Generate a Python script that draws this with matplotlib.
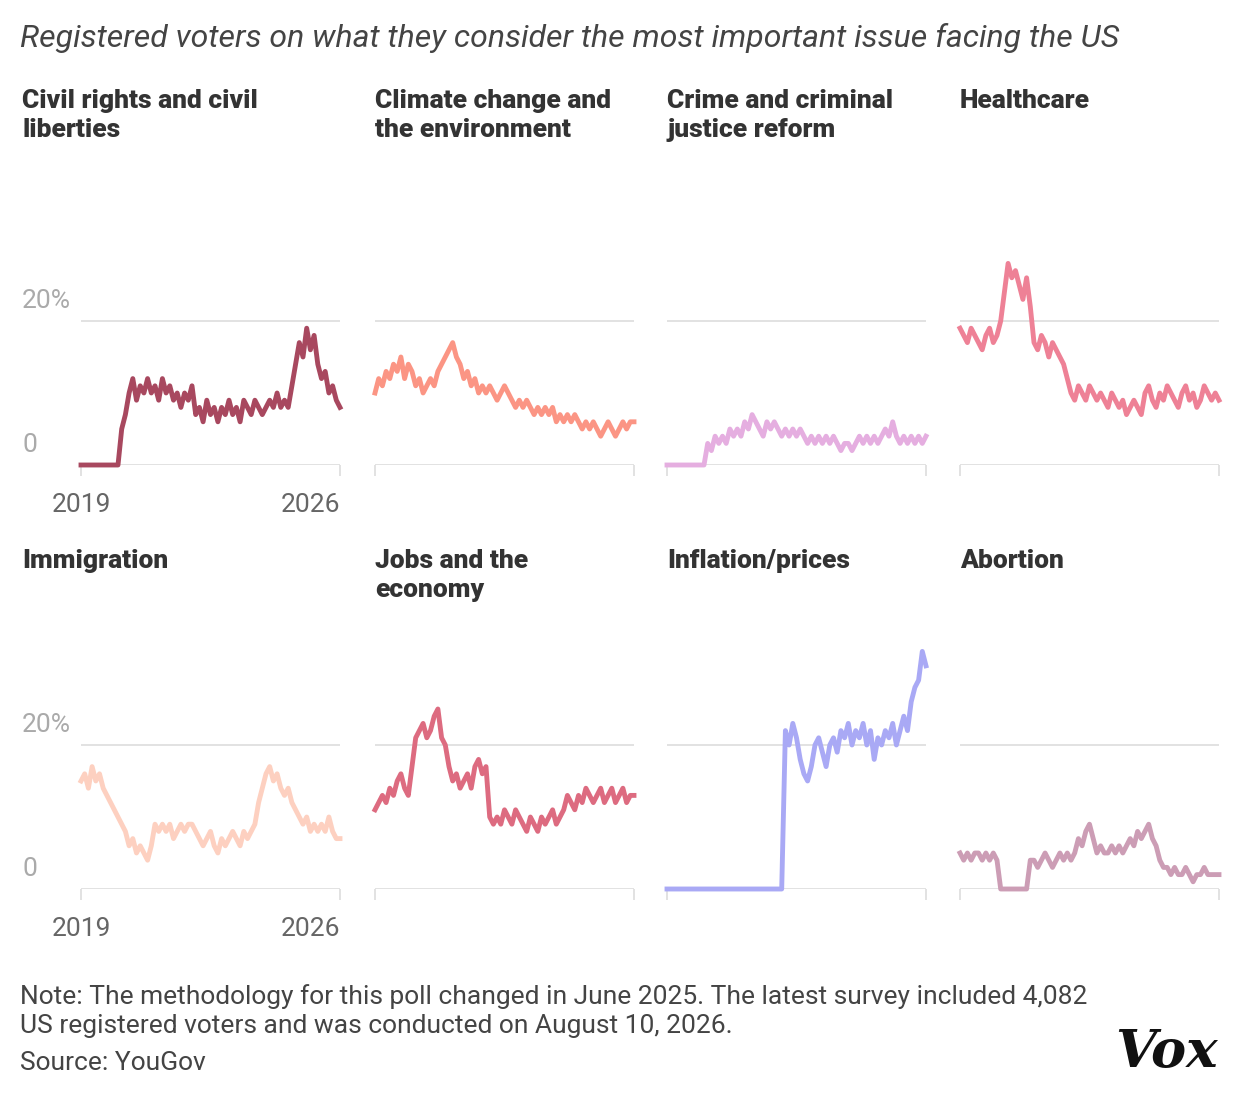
import numpy as np
import matplotlib
matplotlib.use("Agg")
import matplotlib.pyplot as plt

plt.rcParams['font.family'] = ['Roboto', 'DejaVu Sans']

# years 2019.0 .. 2026.0, step 0.1
years = np.round(np.arange(71) * 0.1 + 2019.0, 1)

titles = ["Civil rights and civil\nliberties", "Climate change and\nthe environment",
          "Crime and criminal\njustice reform", "Healthcare",
          "Immigration", "Jobs and the\neconomy", "Inflation/prices", "Abortion"]
colors = ["#a8485f", "#fb9584", "#e5aee0", "#ee8196",
          "#fdd0c0", "#dd6b80", "#a9a9f5", "#cc9db5"]

civil = [0, 0, 0, 0, 0, 0, 0, 0, 0, 0, 0, 5, 7, 10, 12, 9, 11, 10, 12, 10,
         11, 9, 12, 10, 11, 9, 10, 8, 10, 9, 11, 7, 8, 6, 9, 7, 8, 6, 8, 7,
         9, 7, 8, 6, 9, 8, 7, 9, 8, 7, 8, 9, 8, 10, 8, 9, 8, 11, 14, 17,
         15, 19, 16, 18, 14, 12, 13, 10, 11, 9, 8]
climate = [10, 12, 11, 13, 12, 14, 13, 15, 12, 14, 13, 11, 12, 10, 11, 12, 11, 13, 14, 15,
           16, 17, 15, 14, 12, 13, 11, 12, 10, 11, 10, 11, 10, 9, 10, 11, 10, 9, 8, 9,
           8, 9, 8, 7, 8, 7, 8, 7, 8, 6, 7, 6, 7, 6, 7, 6, 5, 6, 5, 6,
           5, 4, 5, 6, 5, 4, 5, 6, 5, 6, 6]
crime = [0, 0, 0, 0, 0, 0, 0, 0, 0, 0, 0, 3, 2, 4, 3, 4, 3, 5, 4, 5,
         4, 6, 5, 7, 6, 5, 4, 6, 5, 6, 5, 4, 5, 4, 5, 4, 5, 4, 3, 4,
         3, 4, 3, 4, 3, 4, 3, 2, 3, 3, 2, 3, 4, 3, 4, 3, 4, 3, 4, 5,
         4, 6, 4, 3, 4, 3, 4, 3, 4, 3, 4]
health = [19, 18, 17, 19, 18, 17, 16, 18, 19, 17, 18, 20, 24, 28, 26, 27, 25, 23, 26, 22,
          17, 16, 18, 17, 15, 17, 16, 15, 14, 12, 10, 9, 11, 10, 9, 11, 10, 9, 10, 9,
          8, 10, 9, 8, 9, 7, 8, 9, 8, 7, 10, 11, 9, 8, 10, 9, 11, 10, 9, 8,
          10, 11, 9, 10, 8, 9, 11, 10, 9, 10, 9]
immig = [15, 16, 14, 17, 15, 16, 14, 13, 12, 11, 10, 9, 8, 6, 7, 5, 6, 5, 4, 6,
         9, 8, 9, 8, 9, 7, 8, 9, 8, 9, 9, 8, 7, 6, 7, 8, 6, 5, 7, 6,
         7, 8, 7, 6, 8, 7, 8, 9, 12, 14, 16, 17, 15, 16, 14, 13, 14, 12, 11, 10,
         9, 10, 8, 9, 8, 9, 8, 10, 8, 7, 7]
jobs = [11, 12, 13, 12, 14, 13, 15, 16, 14, 13, 17, 21, 22, 23, 21, 22, 24, 25, 21, 20,
        17, 15, 16, 14, 15, 16, 14, 17, 18, 16, 17, 10, 9, 10, 9, 11, 10, 9, 11, 10,
        9, 8, 10, 9, 8, 10, 9, 10, 11, 9, 10, 11, 13, 12, 11, 13, 12, 14, 13, 12,
        13, 14, 12, 13, 14, 12, 13, 14, 12, 13, 13]
inflation = [0, 0, 0, 0, 0, 0, 0, 0, 0, 0, 0, 0, 0, 0, 0, 0, 0, 0, 0, 0,
             0, 0, 0, 0, 0, 0, 0, 0, 0, 0, 0, 0, 22, 20, 23, 21, 18, 16, 15, 17,
             20, 21, 19, 17, 20, 21, 19, 22, 21, 23, 20, 22, 21, 23, 20, 22, 18, 21, 20, 22,
             21, 23, 20, 22, 24, 22, 26, 28, 29, 33, 31]
abortion = [5, 4, 5, 4, 5, 5, 4, 5, 4, 5, 4, 0, 0, 0, 0, 0, 0, 0, 0, 4,
            4, 3, 4, 5, 4, 3, 4, 5, 4, 5, 4, 5, 7, 6, 8, 9, 7, 5, 6, 5,
            5, 6, 5, 6, 5, 6, 7, 6, 8, 7, 8, 9, 7, 6, 4, 3, 3, 2, 3, 2,
            2, 3, 2, 1, 2, 2, 3, 2, 2, 2, 2]
series = [civil, climate, crime, health, immig, jobs, inflation, abortion]

W, H = 1240, 1098
fig = plt.figure(figsize=(12.4, 10.98), dpi=100)

col_x = [81, 375, 667, 960]
row_base = [465, 889]
pw = 259
ymax = 35
ph = ymax * 7.2

for k in range(8):
    r, c = divmod(k, 4)
    x0, yb = col_x[c], row_base[r]
    ax = fig.add_axes([x0 / W, 1 - yb / H, pw / W, ph / H])
    ax.plot(years, series[k], color=colors[k], lw=3.5, solid_joinstyle='round', clip_on=False, zorder=3)
    ax.set_xlim(2019, 2026)
    ax.set_ylim(0, ymax)
    for s in ax.spines.values():
        s.set_visible(False)
    ax.axhline(20, color="#dddddd", lw=1.2, zorder=1)
    ax.axhline(0, color="#dddddd", lw=1.2, zorder=1)
    ax.set_yticks([])
    ax.set_xticks([2019, 2026])
    ax.tick_params(axis='x', length=8, color="#dddddd", width=1.2, labelsize=19,
                   labelcolor="#666666", pad=12)
    if c != 0:
        ax.set_xticklabels([])
    else:
        labs = ax.get_xticklabels()
        labs[1].set_horizontalalignment('right')
        fig.text(22 / W, 1 - (yb - 144 - 8) / H, "20%", fontsize=19, color="#aaaaaa", va='bottom')
        fig.text(22 / W, 1 - (yb - 8) / H, "0", fontsize=19, color="#aaaaaa", va='bottom')
    ty = 89 if r == 0 else 549
    fig.text((22 if c == 0 else x0) / W, 1 - ty / H, titles[k], fontsize=19, fontweight='black',
             color="#333333", va='top', linespacing=1.25)

fig.text(20 / W, 1 - 38 / H, "Registered voters on what they consider the most important issue facing the US",
         fontsize=23, style='italic', color="#444444", va='center')
fig.text(20 / W, 1 - 1011 / H,
         "Note: The methodology for this poll changed in June 2025. The latest survey included 4,082\n"
         "US registered voters and was conducted on August 10, 2026.",
         fontsize=19, color="#444444", va='center', linespacing=1.25)
fig.text(20 / W, 1 - 1063 / H, "Source: YouGov", fontsize=19, color="#444444", va='center')
fig.text(1218 / W, 1 - 1053 / H, "Vox", fontsize=38, fontweight='bold', style='italic',
         family='DejaVu Serif', color="#111111", ha='right', va='center')

fig.savefig("out.png", dpi=100, facecolor='white')
